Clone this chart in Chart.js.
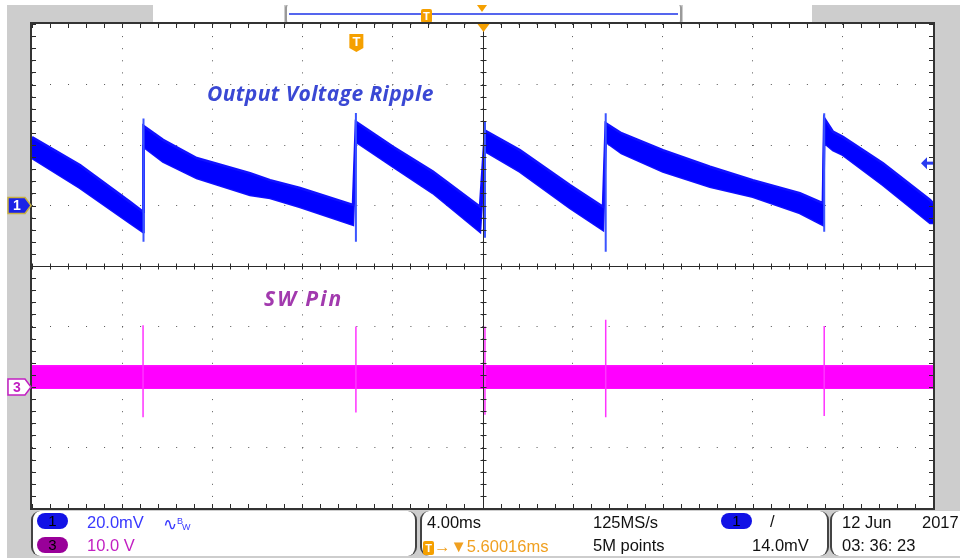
<!DOCTYPE html>
<html>
<head>
<meta charset="utf-8">
<script src="https://cdn.jsdelivr.net/npm/chart.js@4.4.1/dist/chart.umd.min.js"></script>
<style>
body { margin: 0; width: 960px; height: 558px; background: #fff; position: relative; overflow: hidden; font-family: "Liberation Sans", Arial, sans-serif; }
.abs { position: absolute; }
#bezel { left: 7px; top: 5px; width: 953px; height: 553px; background: #cdcdcd; }
#screen { left: 32px; top: 24px; width: 901px; height: 484px; background: #fff; }
.wbox { background: #fff; height: 18px; top: 5px; }
#recbar { left: 285px; width: 397px; box-sizing: border-box; border-left: 2px solid #9a9a9a; border-right: 2px solid #9a9a9a; border-radius: 3px; }
#recline { left: 2px; right: 2px; top: 8px; height: 2px; background: #5566ee; }
#recT { left: 421px; top: 9px; width: 11px; height: 14px; background: #f5a000; border-radius: 2px; color: #fff; font: bold 11px "Liberation Sans", sans-serif; text-align: center; line-height: 14px; }
#recTri { left: 477px; top: 5px; width: 0; height: 0; border-left: 5px solid transparent; border-right: 5px solid transparent; border-top: 7px solid #f5a000; }
canvas#scope { position: absolute; left: 0; top: 0; }
.label { font-family: "Open Sans", "Liberation Sans", sans-serif; font-weight: 700; font-style: italic; font-size: 21px; letter-spacing: 0.4px; white-space: nowrap; line-height: 26px; }
.box { top: 511px; height: 45px; background: #fff; box-sizing: border-box; border-left: 2px solid #444; border-right: 2px solid #444; border-radius: 9px; }
.t { font-size: 16.5px; line-height: 18px; white-space: nowrap; color: #111; }
.pill { width: 31px; height: 16px; border-radius: 8px; text-align: center; line-height: 16px; font-size: 15px; color: #000; }
</style>
</head>
<body>
<div id="bezel" class="abs"></div>
<div class="abs wbox" style="left:153px;width:131px"></div>
<div id="recbar" class="abs wbox"><div id="recline" class="abs"></div></div>
<div class="abs wbox" style="left:683px;width:129px"></div>
<div id="recT" class="abs">T</div>
<div id="recTri" class="abs"></div>
<div id="screen" class="abs"></div>
<canvas id="scope" width="960" height="558"></canvas>

<div class="abs label" style="left:207px;top:80px;color:#3a48d4">Output Voltage Ripple</div>
<div class="abs label" style="left:264px;top:285px;color:#a23aae;letter-spacing:2px">SW Pin</div>

<div class="abs box" style="left:31px;width:386px"></div>
<div class="abs box" style="left:420px;width:409px"></div>
<div class="abs box" style="left:830px;width:140px"></div>

<div class="abs pill" style="left:37px;top:513px;background:#1212e6">1</div>
<div class="abs pill" style="left:37px;top:537px;background:#990099">3</div>
<div class="abs t" style="left:87px;top:513px;color:#3838ff">20.0mV</div>
<div class="abs t" style="left:163px;top:512px;color:#3838ff">∿<span style="font-size:9px;vertical-align:6px">B</span><span style="font-size:9px;margin-left:-1px">W</span></div>
<div class="abs t" style="left:87px;top:536px;color:#c21fc2">10.0 V</div>

<div class="abs t" style="left:427px;top:513px">4.00ms</div>
<div class="abs t" style="left:423px;top:537px;color:#f0a020"><span style="display:inline-block;width:11px;height:14px;line-height:14px;background:#f5a000;color:#fff;font-size:11px;font-weight:bold;text-align:center;border-radius:2px">T</span>→▼5.60016ms</div>
<div class="abs t" style="left:593px;top:513px">125MS/s</div>
<div class="abs t" style="left:593px;top:536px">5M points</div>
<div class="abs pill" style="left:721px;top:513px;background:#1212e6">1</div>
<div class="abs t" style="left:770px;top:512px">/</div>
<div class="abs t" style="left:752px;top:536px">14.0mV</div>

<div class="abs t" style="left:842px;top:513px">12 Jun</div>
<div class="abs t" style="left:922px;top:513px">2017</div>
<div class="abs t" style="left:842px;top:536px">03: 36: 23</div>

<script>
// channel 1: output ripple, ms / mV (band edges)
const rippleTime = [0, 2.13, 4.35, 4.93, 4.95, 5.82, 7.31, 9.68, 10.57, 11.90, 14.25, 14.38, 16.03, 17.80, 19.89, 20.11, 21.66, 23.88, 25.35, 25.47, 26.17, 28.01, 30.10, 32.00, 34.09, 35.11, 35.17, 35.56, 36.00, 37.78, 39.87, 40];
const rippleHigh = [22.6, 13.4, 1.2, -2.1, 26.3, 21.7, 15.7, 10.7, 8.4, 5.8, 0.2, 27.7, 19.4, 11.2, -0.4, 24.8, 18.3, 6.8, -0.4, 27.2, 23.9, 18.3, 12.8, 8.4, 4.1, 0.8, 28.9, 24.4, 22.7, 14.0, 1.8, 0.8];
const rippleLow = [15.7, 5.8, -5.8, -8.8, 19.4, 14.5, 9.1, 3.5, 2.5, -0.5, -6.4, 21.1, 12.8, 4.1, -8.7, 18.0, 11.2, -0.8, -8.1, 21.1, 17.3, 11.2, 6.2, 2.9, -2.5, -6.4, 20.7, 18.3, 16.7, 6.8, -5.8, -5.8];

// vertical edges at each switching event
const jumpTime = [4.95, 14.38, 20.11, 25.47, 35.17];
const jumpLow = [-12.0, -12.0, -10.7, -15.3, -8.7];
const jumpHigh = [28.8, 30.6, 27.7, 30.5, 30.5];

// channel 3: SW pin, ms / V
const swTime = [0, 10, 20, 30, 40];
const swHigh = [3.5, 3.5, 3.5, 3.5, 3.5];
const swLow = [-0.2, -0.2, -0.2, -0.2, -0.2];
const swSpikeTime = [4.93, 14.38, 20.11, 25.47, 35.17];
const swSpikeHigh = [10.2, 10.0, 10.0, 11.1, 10.1];
const swSpikeLow = [-5.0, -4.2, -4.6, -5.0, -4.8];

const triggerLevel = 14.0; // mV
const triggerTime = 14.4;  // ms

const toPoints = (xs, ys) => xs.map((x, i) => ({ x, y: ys[i] }));
const toSpikes = (ts, lo, hi) => ts.flatMap((t, i) => [{ x: t, y: lo[i] }, { x: t, y: hi[i] }, { x: t, y: null }]);

function marker(ctx, tipY, fill, stroke, text, textColor) {
	ctx.beginPath();
	ctx.moveTo(8, tipY - 8);
	ctx.lineTo(25, tipY - 8);
	ctx.lineTo(31, tipY);
	ctx.lineTo(25, tipY + 8);
	ctx.lineTo(8, tipY + 8);
	ctx.closePath();
	ctx.fillStyle = fill;
	ctx.fill();
	ctx.lineWidth = 1.5;
	ctx.strokeStyle = stroke;
	ctx.stroke();
	ctx.fillStyle = textColor;
	ctx.font = 'bold 14px "Liberation Sans", sans-serif';
	ctx.textAlign = 'center';
	ctx.textBaseline = 'middle';
	ctx.fillText(text, 17, tipY + 1);
}

const scopeFrame = {
	id: 'scopeFrame',
	afterDatasetsDraw(chart) {
		const { ctx, chartArea: a, scales } = chart;
		const xs = scales.x;
		const ys = scales.y;
		const cx = Math.round(xs.getPixelForValue(20)) + 0.5;
		const cy = Math.round(ys.getPixelForValue(-20)) + 0.5;
		ctx.save();

		// center cross + minor ticks
		ctx.strokeStyle = '#2a2a2a';
		ctx.lineWidth = 1;
		ctx.beginPath();
		ctx.moveTo(a.left, cy);
		ctx.lineTo(a.right, cy);
		ctx.moveTo(cx, a.top);
		ctx.lineTo(cx, a.bottom);
		for (let k = 0; k <= 50; k++) {
			const px = Math.round(xs.getPixelForValue(k * 0.8)) + 0.5;
			ctx.moveTo(px, cy - 3);
			ctx.lineTo(px, cy + 3);
			ctx.moveTo(px, a.top);
			ctx.lineTo(px, a.top + 4);
			ctx.moveTo(px, a.bottom);
			ctx.lineTo(px, a.bottom - 4);
		}
		for (let k = 0; k <= 40; k++) {
			const py = Math.round(ys.getPixelForValue(-100 + k * 4)) + 0.5;
			ctx.moveTo(cx - 3, py);
			ctx.lineTo(cx + 3, py);
			ctx.moveTo(a.left, py);
			ctx.lineTo(a.left + 4, py);
			ctx.moveTo(a.right, py);
			ctx.lineTo(a.right - 4, py);
		}
		ctx.stroke();

		// frame
		ctx.lineWidth = 2;
		ctx.strokeStyle = '#333';
		ctx.strokeRect(a.left - 1, a.top - 1, a.width + 2, a.height + 2);

		// trigger position marker (orange T)
		const tx = xs.getPixelForValue(triggerTime);
		ctx.fillStyle = '#f5a000';
		ctx.beginPath();
		ctx.moveTo(tx - 7, a.top + 10);
		ctx.lineTo(tx + 7, a.top + 10);
		ctx.lineTo(tx + 7, a.top + 24);
		ctx.lineTo(tx, a.top + 28);
		ctx.lineTo(tx - 7, a.top + 24);
		ctx.closePath();
		ctx.fill();
		ctx.fillStyle = '#fff';
		ctx.font = 'bold 13px "Liberation Sans", sans-serif';
		ctx.textAlign = 'center';
		ctx.textBaseline = 'middle';
		ctx.fillText('T', tx, a.top + 18);

		// time reference triangle at top centre
		ctx.fillStyle = '#f5a000';
		ctx.beginPath();
		ctx.moveTo(cx - 6, a.top);
		ctx.lineTo(cx + 6, a.top);
		ctx.lineTo(cx, a.top + 8);
		ctx.closePath();
		ctx.fill();

		// trigger level arrow on the right
		const ly = ys.getPixelForValue(triggerLevel);
		ctx.fillStyle = '#2a3cf0';
		ctx.beginPath();
		ctx.moveTo(a.right - 12, ly);
		ctx.lineTo(a.right - 6, ly - 6);
		ctx.lineTo(a.right - 6, ly + 6);
		ctx.closePath();
		ctx.fill();
		ctx.fillRect(a.right - 7, ly - 1.5, 7, 3);

		// channel ground markers
		marker(ctx, ys.getPixelForValue(0), '#1a22e6', '#c8b040', '1', '#fff');
		marker(ctx, scales.y3.getPixelForValue(0), '#fff', '#c21fc2', '3', '#c21fc2');

		ctx.restore();
	},
};

const chart = new Chart(document.getElementById('scope').getContext('2d'), {
	type: 'line',
	data: {
		datasets: [
			{
				data: toSpikes(jumpTime, jumpLow, jumpHigh),
				borderColor: '#3b55ff',
				borderWidth: 2,
				pointRadius: 0,
				fill: false,
				spanGaps: false,
			},
			{
				data: toPoints(rippleTime, rippleHigh),
				borderColor: '#1010ff',
				backgroundColor: '#0000ff',
				borderWidth: 2.5,
				pointRadius: 0,
				fill: '+1',
			},
			{
				data: toPoints(rippleTime, rippleLow),
				borderColor: '#1010ff',
				borderWidth: 2.5,
				pointRadius: 0,
				fill: false,
			},
			{
				data: toSpikes(swSpikeTime, swSpikeLow, swSpikeHigh),
				yAxisID: 'y3',
				borderColor: '#ff33ff',
				borderWidth: 1.5,
				pointRadius: 0,
				fill: false,
				spanGaps: false,
			},
			{
				data: toPoints(swTime, swHigh),
				yAxisID: 'y3',
				borderColor: '#ff10ff',
				backgroundColor: '#ff00ff',
				borderWidth: 1.5,
				pointRadius: 0,
				fill: '+1',
			},
			{
				data: toPoints(swTime, swLow),
				yAxisID: 'y3',
				borderColor: '#ff10ff',
				borderWidth: 1.5,
				pointRadius: 0,
				fill: false,
			},
		],
	},
	options: {
		responsive: false,
		animation: false,
		events: [],
		layout: { padding: { left: 32, top: 24, right: 27, bottom: 50 } },
		plugins: {
			legend: { display: false },
			tooltip: { enabled: false },
		},
		scales: {
			x: {
				type: 'linear',
				min: 0,
				max: 40,
				ticks: { display: false, stepSize: 4 },
				grid: { color: '#555', lineWidth: 1, drawTicks: false },
				border: { display: false, dash: [1, 11.1] },
			},
			y: {
				min: -100,
				max: 60,
				ticks: { display: false, stepSize: 20 },
				grid: { color: '#555', lineWidth: 1, drawTicks: false },
				border: { display: false, dash: [1, 17.02] },
			},
			y3: {
				display: false,
				min: -20,
				max: 60,
			},
		},
	},
	plugins: [scopeFrame],
});
</script>
</body>
</html>
